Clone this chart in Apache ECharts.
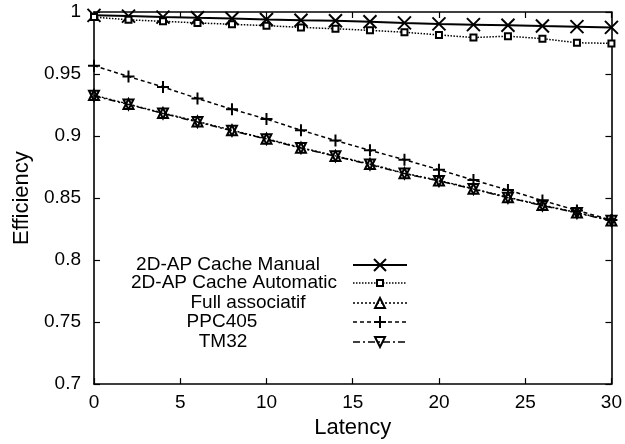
<!DOCTYPE html>
<html><head><meta charset="utf-8">
<script src="https://cdn.jsdelivr.net/npm/echarts@6/dist/echarts.min.js"></script>
<style>html,body{margin:0;padding:0;background:#fff}#c{width:625px;height:444px}</style>
</head><body><div id="c"></div>
<script>
var latency = [0,2,4,6,8,10,12,14,16,18,20,22,24,26,28,30];
var manual = [0.9973,0.9967,0.9959,0.9953,0.9948,0.9940,0.9934,0.9929,0.9921,0.9912,0.9904,0.9898,0.9893,0.9887,0.9882,0.9876];
var automatic = [0.9959,0.9937,0.9925,0.9912,0.9901,0.9890,0.9876,0.9865,0.9852,0.9837,0.9815,0.9794,0.9805,0.9785,0.9752,0.9747];
var fullAssoc = [0.9330,0.9258,0.9185,0.9118,0.9047,0.8978,0.8906,0.8840,0.8774,0.8700,0.8642,0.8575,0.8506,0.8443,0.8383,0.8319];
var ppc405 = [0.9567,0.9480,0.9396,0.9303,0.9216,0.9137,0.9047,0.8964,0.8885,0.8809,0.8729,0.8645,0.8565,0.8480,0.8400,0.8323];
var tm32 = [0.9325,0.9254,0.9182,0.9113,0.9043,0.8975,0.8903,0.8837,0.8770,0.8697,0.8638,0.8572,0.8503,0.8440,0.8380,0.8316];
var names = ['2D-AP Cache Manual','2D-AP Cache Automatic','Full associatif','PPC405','TM32'];
var xTicks = [0,5,10,15,20,25,30];
var yTicks = [0.7,0.75,0.8,0.85,0.9,0.95,1];

function pairs(ys){ return latency.map(function(x,i){return [x, ys[i]];}); }
var FONT = 'Liberation Sans, Arial, sans-serif';
var chart = echarts.init(document.getElementById('c'));

var styles = [
  {dash:'solid', w:2, symbol:'path://M0,0L10,10M10,0L0,10', size:13, fill:'transparent', bw:2},
  {dash:[1.5,1.5], w:1.5, symbol:'rect', size:6, fill:'#fff', bw:2},
  {dash:[2,2], w:1.5, symbol:'triangle', size:10, fill:'transparent', bw:2},
  {dash:[4,3], w:1.5, symbol:'path://M5,0L5,10M0,5L10,5', size:12, fill:'transparent', bw:2},
  {dash:[7,3,2,3], w:1.5, symbol:'triangle', size:10, fill:'transparent', rot:180, bw:2}
];
var datasets = [manual, automatic, fullAssoc, ppc405, tm32];

var series = datasets.map(function(d,i){
  var s = styles[i];
  return {
    name: names[i], type:'line', data: pairs(d), symbol: s.symbol, symbolSize: s.size,
    symbolRotate: s.rot || 0, showAllSymbol:true, animation:false,
    lineStyle:{color:'#000', width:s.w, type:s.dash},
    itemStyle:{color:s.fill, borderColor:'#000', borderWidth:s.bw},
    z: 2+i
  };
});

// legend drawn as graphics
var legX = [228, 234, 248, 222, 223];
var legY = [265, 283, 303, 322, 342];
var graphics = [];
names.forEach(function(n,i){
  graphics.push({type:'text', x:legX[i], y:legY[i],
    style:{text:n, font:'19px '+FONT, fill:'#000', textAlign:'center', textVerticalAlign:'middle'}});
  var s = styles[i];
  graphics.push({type:'line', shape:{x1:353,y1:legY[i],x2:407,y2:legY[i]},
    style:{stroke:'#000', lineWidth:s.w, lineDash: s.dash==='solid'?null:s.dash}});
  var cx=380, cy=legY[i];
  if(i===0){
    graphics.push({type:'polyline', shape:{points:[[cx-6,cy-6],[cx+6,cy+6]]}, style:{stroke:'#000',lineWidth:2}});
    graphics.push({type:'polyline', shape:{points:[[cx-6,cy+6],[cx+6,cy-6]]}, style:{stroke:'#000',lineWidth:2}});
  } else if(i===1){
    graphics.push({type:'rect', shape:{x:cx-3,y:cy-3,width:6,height:6}, style:{fill:'#fff',stroke:'#000',lineWidth:2}});
  } else if(i===2){
    graphics.push({type:'polygon', shape:{points:[[cx,cy-5],[cx+5,cy+5],[cx-5,cy+5]]}, style:{fill:'none',stroke:'#000',lineWidth:2}});
  } else if(i===3){
    graphics.push({type:'polyline', shape:{points:[[cx,cy-6],[cx,cy+6]]}, style:{stroke:'#000',lineWidth:2}});
    graphics.push({type:'polyline', shape:{points:[[cx-6,cy],[cx+6,cy]]}, style:{stroke:'#000',lineWidth:2}});
  } else {
    graphics.push({type:'polygon', shape:{points:[[cx,cy+5],[cx+5,cy-5],[cx-5,cy-5]]}, style:{fill:'none',stroke:'#000',lineWidth:2}});
  }
});

var axisLine = {show:true, onZero:false, lineStyle:{color:'#000', width:1.6}};
var axisTick = {show:true, inside:true, length:6, lineStyle:{color:'#000', width:1.2}};
var labelStyle = {color:'#000', fontSize:19, fontFamily:FONT};

chart.setOption({
  animation:false,
  backgroundColor:'#fff',
  grid:{left:94, right:11, top:12, bottom:54, containLabel:false},
  xAxis:[
    {type:'value', min:0, max:30, interval:5, position:'bottom',
     name:'Latency', nameLocation:'middle', nameGap:27,
     nameTextStyle:{color:'#000', fontSize:22, fontFamily:FONT},
     axisLine:axisLine, axisTick:axisTick, splitLine:{show:false},
     axisLabel:Object.assign({margin:9, formatter:function(v){return xTicks.indexOf(v)>=0?String(v):'';}}, labelStyle)},
    {type:'value', min:0, max:30, interval:5, position:'top',
     axisLine:axisLine, axisTick:axisTick, splitLine:{show:false}, axisLabel:{show:false}}
  ],
  yAxis:[
    {type:'value', min:0.7, max:1, interval:0.05, position:'left',
     name:'Efficiency', nameLocation:'middle', nameGap:60,
     nameTextStyle:{color:'#000', fontSize:22, fontFamily:FONT},
     axisLine:axisLine, axisTick:axisTick, splitLine:{show:false},
     axisLabel:Object.assign({margin:13, formatter:function(v){return String(parseFloat(v.toFixed(2)));}}, labelStyle)},
    {type:'value', min:0.7, max:1, interval:0.05, position:'right',
     axisLine:axisLine, axisTick:axisTick, splitLine:{show:false}, axisLabel:{show:false}}
  ],
  series: series,
  graphic: graphics
});
</script></body></html>
